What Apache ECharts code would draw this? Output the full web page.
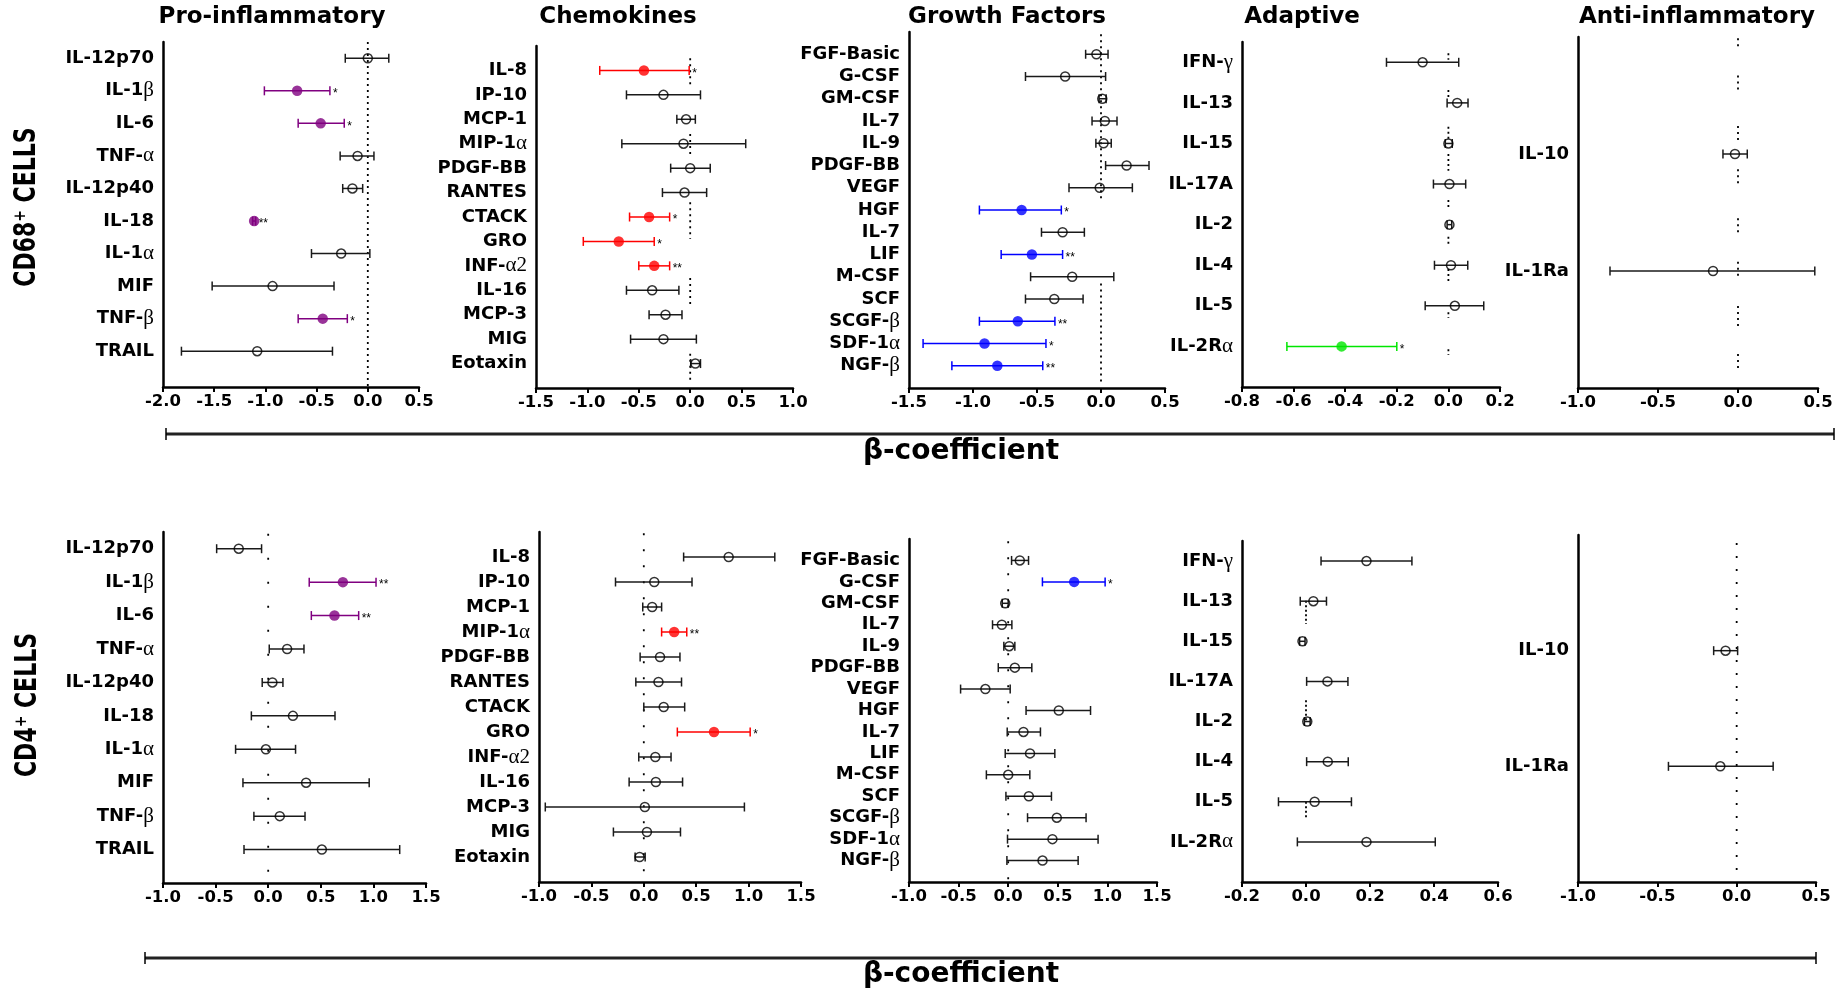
<!DOCTYPE html>
<html>
<head>
<meta charset="utf-8">
<title>Cytokine associations (β-coefficient)</title>
<script src="https://cdn.jsdelivr.net/npm/echarts@6/dist/echarts.min.js"></script>
<style>
  html, body { margin: 0; padding: 0; background: #fff; }
  #chart { width: 1843px; height: 993px; }
</style>
</head>
<body>
<div id="chart"></div>
<script>
// ---------- categories ----------
const groupTitles = ['Pro-inflammatory', 'Chemokines', 'Growth Factors', 'Adaptive', 'Anti-inflammatory'];
const cellTypes = ['CD68⁺ CELLS', 'CD4⁺ CELLS'];
const proLabels = ['IL-12p70', 'IL-1β', 'IL-6', 'TNF-α', 'IL-12p40', 'IL-18', 'IL-1α', 'MIF', 'TNF-β', 'TRAIL'];
const chemoLabels = ['IL-8', 'IP-10', 'MCP-1', 'MIP-1α', 'PDGF-BB', 'RANTES', 'CTACK', 'GRO', 'INF-α2', 'IL-16', 'MCP-3', 'MIG', 'Eotaxin'];
const growthLabels = ['FGF-Basic', 'G-CSF', 'GM-CSF', 'IL-7', 'IL-9', 'PDGF-BB', 'VEGF', 'HGF', 'IL-7', 'LIF', 'M-CSF', 'SCF', 'SCGF-β', 'SDF-1α', 'NGF-β'];
const adaptiveLabels = ['IFN-γ', 'IL-13', 'IL-15', 'IL-17A', 'IL-2', 'IL-4', 'IL-5', 'IL-2Rα'];
const antiLabels = ['IL-10', 'IL-1Ra'];

// ---------- CD68+ cells: estimate, lower / upper CI, significance ----------
const cd68ProBeta = [0.00, -0.69, -0.46, -0.10, -0.15, -1.11, -0.26, -0.93, -0.44, -1.08];
const cd68ProLow  = [-0.22, -1.01, -0.68, -0.27, -0.245, -1.125, -0.55, -1.52, -0.68, -1.82];
const cd68ProHigh = [0.205, -0.37, -0.23, 0.06, -0.05, -1.095, 0.02, -0.33, -0.20, -0.345];
const cd68ProSig  = ['', '*', '*', '', '', '**', '', '', '*', ''];

const cd68ChemoBeta = [-0.45, -0.26, -0.04, -0.065, 0.00, -0.055, -0.40, -0.695, -0.35, -0.37, -0.24, -0.26, 0.05];
const cd68ChemoLow  = [-0.88, -0.62, -0.13, -0.665, -0.19, -0.27, -0.59, -1.04, -0.50, -0.62, -0.40, -0.58, 0.005];
const cd68ChemoHigh = [-0.01, 0.10, 0.05, 0.54, 0.195, 0.16, -0.20, -0.35, -0.20, -0.11, -0.08, 0.06, 0.10];
const cd68ChemoSig  = ['*', '', '', '', '', '', '*', '*', '**', '', '', '', ''];

const cd68GrowthBeta = [-0.036, -0.28, 0.01, 0.03, 0.02, 0.20, -0.01, -0.62, -0.30, -0.54, -0.225, -0.365, -0.65, -0.91, -0.81];
const cd68GrowthLow  = [-0.12, -0.59, -0.015, -0.07, -0.04, 0.036, -0.25, -0.95, -0.465, -0.78, -0.55, -0.59, -0.95, -1.39, -1.165];
const cd68GrowthHigh = [0.055, 0.036, 0.04, 0.125, 0.08, 0.375, 0.245, -0.31, -0.13, -0.30, 0.10, -0.14, -0.36, -0.43, -0.455];
const cd68GrowthSig  = ['', '', '', '', '', '', '', '*', '', '**', '', '', '**', '*', '**'];

const cd68AdaptBeta = [-0.10, 0.034, 0.00, 0.004, 0.004, 0.01, 0.025, -0.414];
const cd68AdaptLow  = [-0.24, -0.005, -0.012, -0.058, -0.005, -0.054, -0.09, -0.626];
const cd68AdaptHigh = [0.04, 0.076, 0.015, 0.067, 0.013, 0.075, 0.137, -0.20];
const cd68AdaptSig  = ['', '', '', '', '', '', '', '*'];

const cd68AntiBeta = [-0.019, -0.156];
const cd68AntiLow  = [-0.094, -0.80];
const cd68AntiHigh = [0.058, 0.48];
const cd68AntiSig  = ['', ''];

// ---------- CD4+ cells ----------
const cd4ProBeta = [-0.28, 0.71, 0.63, 0.18, 0.04, 0.235, -0.022, 0.36, 0.11, 0.51];
const cd4ProLow  = [-0.49, 0.39, 0.41, 0.01, -0.057, -0.16, -0.31, -0.24, -0.136, -0.23];
const cd4ProHigh = [-0.063, 1.025, 0.86, 0.34, 0.14, 0.635, 0.26, 0.96, 0.35, 1.25];
const cd4ProSig  = ['', '**', '**', '', '', '', '', '', '', ''];

const cd4ChemoBeta = [0.81, 0.10, 0.08, 0.29, 0.155, 0.14, 0.19, 0.67, 0.11, 0.115, 0.01, 0.03, -0.04];
const cd4ChemoLow  = [0.38, -0.27, -0.01, 0.17, -0.035, -0.076, 0.00, 0.32, -0.048, -0.14, -0.94, -0.29, -0.083];
const cd4ChemoHigh = [1.25, 0.46, 0.17, 0.41, 0.345, 0.36, 0.39, 1.015, 0.26, 0.37, 0.96, 0.35, 0.013];
const cd4ChemoSig  = ['', '', '', '**', '', '', '', '*', '', '', '', '', ''];

const cd4GrowthBeta = [0.117, 0.665, -0.03, -0.064, 0.01, 0.067, -0.23, 0.51, 0.154, 0.22, 0.00, 0.208, 0.49, 0.446, 0.346];
const cd4GrowthLow  = [0.034, 0.345, -0.06, -0.158, -0.044, -0.10, -0.48, 0.18, -0.01, -0.03, -0.22, -0.023, 0.195, -0.007, -0.013];
const cd4GrowthHigh = [0.205, 0.977, 0.00, 0.037, 0.067, 0.238, 0.02, 0.83, 0.325, 0.47, 0.218, 0.436, 0.785, 0.906, 0.705];
const cd4GrowthSig  = ['', '*', '', '', '', '', '', '', '', '', '', '', '', '', ''];

const cd4AdaptBeta = [0.189, 0.023, -0.011, 0.067, 0.004, 0.068, 0.027, 0.189];
const cd4AdaptLow  = [0.047, -0.018, -0.02, 0.002, -0.005, 0.002, -0.086, -0.027];
const cd4AdaptHigh = [0.331, 0.064, -0.003, 0.131, 0.013, 0.132, 0.142, 0.404];
const cd4AdaptSig  = ['', '', '', '', '', '', '', ''];

const cd4AntiBeta = [-0.07, -0.103];
const cd4AntiLow  = [-0.145, -0.43];
const cd4AntiHigh = [0.006, 0.23];
const cd4AntiSig  = ['', ''];

// ---------- x-axis tick labels ----------
const ticksCd68 = [
  [-2.0, -1.5, -1.0, -0.5, 0.0, 0.5],
  [-1.5, -1.0, -0.5, 0.0, 0.5, 1.0],
  [-1.5, -1.0, -0.5, 0.0, 0.5],
  [-0.8, -0.6, -0.4, -0.2, 0.0, 0.2],
  [-1.0, -0.5, 0.0, 0.5]
];
const ticksCd4 = [
  [-1.0, -0.5, 0.0, 0.5, 1.0, 1.5],
  [-1.0, -0.5, 0.0, 0.5, 1.0, 1.5],
  [-1.0, -0.5, 0.0, 0.5, 1.0, 1.5],
  [-0.2, 0.0, 0.2, 0.4, 0.6],
  [-1.0, -0.5, 0.0, 0.5]
];

// ---------- styling / layout ----------
const groupColors = ['#800080', '#FF0000', '#0000FF', '#00E600', '#000000'];
const FONT = 'DejaVu Sans';

// plot-area boxes (px) and row extents, plus dotted zero-line pieces in row units
const layout = [
  { left: 163, top: 42, right: 419, bottom: 387, rows: [-0.5, 10.1], ref: [[-0.5, 10.1]], dash: [2, 4] },
  { left: 536, top: 46, right: 793, bottom: 388, rows: [-1, 13], ref: [[-0.5, 0.7], [2.6, 3.5], [5.4, 6.9], [8.5, 9.6], [11.6, 12.8]], dash: [2, 4] },
  { left: 909, top: 32, right: 1165, bottom: 388, rows: [-1, 15], ref: [[-0.9, 6.6], [10.3, 14.8]], dash: [2, 4] },
  { left: 1242, top: 42, right: 1500, bottom: 387, rows: [-0.5, 8], ref: [[-0.22, -0.06], [0.68, 0.86], [1.59, 1.89], [2.26, 2.67], [3.39, 3.61], [4.3, 4.52], [5.09, 5.4], [6.16, 6.3], [7.07, 7.21]], dash: [2, 3] },
  { left: 1578, top: 37, right: 1818, bottom: 388, rows: [-1, 2], ref: [[-0.99, -0.91], [-0.67, -0.54], [-0.24, -0.11], [0.13, 0.25], [0.55, 0.68], [0.92, 1.06], [1.3, 1.48], [1.71, 1.84]], dash: [2, 4] },
  { left: 163, top: 532, right: 426, bottom: 883, rows: [-0.5, 10], ref: [[-0.45, 9.9]], dash: [2, 22] },
  { left: 539, top: 532, right: 801, bottom: 882, rows: [-1, 13], ref: [[-0.95, 12.9]], dash: [2, 14] },
  { left: 909, top: 539, right: 1157, bottom: 882, rows: [-1, 15], ref: [[-0.9, 14.9]], dash: [2, 14] },
  { left: 1242, top: 541, right: 1498, bottom: 882, rows: [-0.5, 8], ref: [[0.99, 1.57], [3.47, 3.97], [6.0, 6.45]], dash: [2, 2.5] },
  { left: 1578, top: 535, right: 1816, bottom: 882, rows: [-1, 2], ref: [[-0.93, 1.95]], dash: [2, 11] }
];

const panels = [
  { labels: proLabels, beta: cd68ProBeta, lo: cd68ProLow, hi: cd68ProHigh, sig: cd68ProSig, ticks: ticksCd68[0], color: groupColors[0] },
  { labels: chemoLabels, beta: cd68ChemoBeta, lo: cd68ChemoLow, hi: cd68ChemoHigh, sig: cd68ChemoSig, ticks: ticksCd68[1], color: groupColors[1] },
  { labels: growthLabels, beta: cd68GrowthBeta, lo: cd68GrowthLow, hi: cd68GrowthHigh, sig: cd68GrowthSig, ticks: ticksCd68[2], color: groupColors[2] },
  { labels: adaptiveLabels, beta: cd68AdaptBeta, lo: cd68AdaptLow, hi: cd68AdaptHigh, sig: cd68AdaptSig, ticks: ticksCd68[3], color: groupColors[3] },
  { labels: antiLabels, beta: cd68AntiBeta, lo: cd68AntiLow, hi: cd68AntiHigh, sig: cd68AntiSig, ticks: ticksCd68[4], color: groupColors[4] },
  { labels: proLabels, beta: cd4ProBeta, lo: cd4ProLow, hi: cd4ProHigh, sig: cd4ProSig, ticks: ticksCd4[0], color: groupColors[0] },
  { labels: chemoLabels, beta: cd4ChemoBeta, lo: cd4ChemoLow, hi: cd4ChemoHigh, sig: cd4ChemoSig, ticks: ticksCd4[1], color: groupColors[1] },
  { labels: growthLabels, beta: cd4GrowthBeta, lo: cd4GrowthLow, hi: cd4GrowthHigh, sig: cd4GrowthSig, ticks: ticksCd4[2], color: groupColors[2] },
  { labels: adaptiveLabels, beta: cd4AdaptBeta, lo: cd4AdaptLow, hi: cd4AdaptHigh, sig: cd4AdaptSig, ticks: ticksCd4[3], color: groupColors[3] },
  { labels: antiLabels, beta: cd4AntiBeta, lo: cd4AntiLow, hi: cd4AntiHigh, sig: cd4AntiSig, ticks: ticksCd4[4], color: groupColors[4] }
];

// greek letters (and trailing digits) set in a serif face
function richName(name) {
  return name.replace(/([αβγ]\d*)/g, '{g|$1}');
}

const option = {
  animation: false,
  backgroundColor: '#ffffff',
  grid: [], xAxis: [], yAxis: [], series: [], graphic: []
};

panels.forEach((p, i) => {
  const L = layout[i];
  const t = p.ticks;
  option.grid.push({
    left: L.left, top: L.top, width: L.right - L.left, height: L.bottom - L.top,
    containLabel: false, outerBoundsMode: 'none'
  });
  option.xAxis.push({
    gridIndex: i, type: 'value', min: t[0], max: t[t.length - 1],
    axisLine: { show: true, onZero: false, lineStyle: { color: '#000', width: 2.5 } },
    axisTick: { show: true, customValues: t, length: 5, lineStyle: { color: '#000', width: 2 } },
    splitLine: { show: false },
    axisLabel: {
      customValues: t, margin: 6, color: '#000', fontFamily: FONT, fontWeight: 'bold', fontSize: 16.5,
      hideOverlap: false,
      formatter: v => (Math.abs(v) < 1e-9 ? 0 : v).toFixed(1)
    }
  });
  option.yAxis.push({
    gridIndex: i, type: 'value', inverse: true, min: L.rows[0], max: L.rows[1],
    axisLine: { show: true, onZero: false, lineStyle: { color: '#000', width: 2.5 } },
    axisTick: { show: false },
    splitLine: { show: false },
    axisLabel: {
      customValues: p.labels.map((_, k) => k), margin: 9, color: '#000',
      fontFamily: FONT, fontWeight: 'bold', fontSize: 18,
      hideOverlap: false,
      formatter: v => richName(p.labels[Math.round(v)] || ''),
      rich: { g: { fontFamily: 'Liberation Serif', fontSize: 21, fontWeight: 'normal', color: '#000' } }
    }
  });

  // dotted reference line at beta = 0
  option.series.push({
    type: 'custom', xAxisIndex: i, yAxisIndex: i, silent: true, z: 1, clip: false,
    data: L.ref,
    renderItem: (params, api) => {
      const a = api.coord([0, api.value(0)]);
      const b = api.coord([0, api.value(1)]);
      return {
        type: 'line', shape: { x1: a[0], y1: a[1], x2: b[0], y2: b[1] },
        style: { stroke: '#000', lineWidth: 1.8, lineDash: L.dash }
      };
    }
  });

  // confidence-interval whiskers with end caps and significance stars
  option.series.push({
    type: 'custom', xAxisIndex: i, yAxisIndex: i, silent: true, z: 2, clip: false,
    data: p.beta.map((b, r) => [p.lo[r], p.hi[r], r]),
    renderItem: (params, api) => {
      const r = api.value(2);
      const a = api.coord([api.value(0), r]);
      const b = api.coord([api.value(1), r]);
      const s = p.sig[params.dataIndex];
      const col = s ? p.color : '#1a1a1a';
      const cap = 4.5;
      const children = [
        { type: 'line', shape: { x1: a[0], y1: a[1], x2: b[0], y2: b[1] }, style: { stroke: col, lineWidth: 1.5 } },
        { type: 'line', shape: { x1: a[0], y1: a[1] - cap, x2: a[0], y2: a[1] + cap }, style: { stroke: col, lineWidth: 1.5 } },
        { type: 'line', shape: { x1: b[0], y1: b[1] - cap, x2: b[0], y2: b[1] + cap }, style: { stroke: col, lineWidth: 1.5 } }
      ];
      if (s) {
        children.push({
          type: 'text', x: b[0] + 3, y: b[1] + 3,
          style: { text: s, fill: '#000', font: '12px "Liberation Sans"', align: 'left', verticalAlign: 'middle' }
        });
      }
      return { type: 'group', children };
    }
  });

  // non-significant estimates: open circles
  option.series.push({
    type: 'scatter', xAxisIndex: i, yAxisIndex: i, silent: true, z: 3, clip: false,
    symbol: 'circle', symbolSize: 9,
    itemStyle: { color: 'rgba(0,0,0,0)', borderColor: '#000', borderWidth: 1.5 },
    data: p.beta.map((b, r) => [b, r]).filter((_, r) => !p.sig[r])
  });

  // significant estimates: filled dots in the group colour
  option.series.push({
    type: 'scatter', xAxisIndex: i, yAxisIndex: i, silent: true, z: 4, clip: false,
    symbol: 'circle', symbolSize: 10.5,
    itemStyle: { color: p.color, borderWidth: 0 },
    data: p.beta.map((b, r) => [b, r]).filter((_, r) => !!p.sig[r])
  });
});

// column headings
const titleCenters = [272, 618, 1007, 1302, 1697];
groupTitles.forEach((txt, k) => {
  option.graphic.push({
    type: 'text', x: titleCenters[k], y: 17, silent: true,
    style: { text: txt, font: 'bold 23px "' + FONT + '"', fill: '#000', align: 'center', verticalAlign: 'middle' }
  });
});

// row headings (vertical)
const rowLabelPos = [[27, 207], [28, 705]];
cellTypes.forEach((txt, k) => {
  option.graphic.push({
    type: 'text', x: rowLabelPos[k][0], y: rowLabelPos[k][1], rotation: Math.PI / 2, scaleY: 1.35, silent: true,
    style: { text: txt, font: 'bold 22px "' + FONT + '"', fill: '#000', align: 'center', verticalAlign: 'middle' }
  });
});

// shared axis brackets with the β-coefficient caption
const brackets = [
  { x1: 166, x2: 1834, y: 434, ty: 452 },
  { x1: 145, x2: 1816, y: 958, ty: 975 }
];
brackets.forEach(b => {
  option.graphic.push(
    { type: 'line', silent: true, shape: { x1: b.x1, y1: b.y, x2: b.x2, y2: b.y }, style: { stroke: '#222', lineWidth: 3 } },
    { type: 'line', silent: true, shape: { x1: b.x1, y1: b.y - 6, x2: b.x1, y2: b.y + 6 }, style: { stroke: '#000', lineWidth: 1.5 } },
    { type: 'line', silent: true, shape: { x1: b.x2, y1: b.y - 6, x2: b.x2, y2: b.y + 6 }, style: { stroke: '#000', lineWidth: 1.5 } },
    { type: 'text', silent: true, x: 961, y: b.ty,
      style: { text: 'β-coefficient', font: 'bold 28px "' + FONT + '"', fill: '#000', align: 'center', verticalAlign: 'middle' } }
  );
});

const chart = echarts.init(document.getElementById('chart'), null, { renderer: 'canvas' });
chart.setOption(option);
</script>
</body>
</html>
